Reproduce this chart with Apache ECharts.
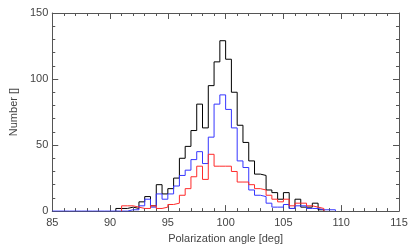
<!DOCTYPE html>
<html>
<head>
<meta charset="utf-8">
<script src="https://cdn.jsdelivr.net/npm/echarts@6/dist/echarts.min.js"></script>
<style>
html,body{margin:0;padding:0;background:#fff;}
#c{width:415px;height:249px;}
</style>
</head>
<body>
<div id="c"></div>
<script>
// Left edges of the 0.5-degree bins
const binStarts = [85,85.5,86,86.5,87,87.5,88,88.5,89,89.5,
  90,90.5,91,91.5,92,92.5,93,93.5,94,94.5,95,95.5,96,96.5,97,97.5,98,98.5,99,99.5,
  100,100.5,101,101.5,102,102.5,103,103.5,104,104.5,105,105.5,106,106.5,107,107.5,108,108.5,109,109.5];
const binWidth = 0.5;
const blackCounts = [null,null,null,null,null,null,null,null,null,null,
  null,2,2,3,2,7,11,4,20,13,17,25,40,49,61,81,63,95,113,129,
  115,90,65,52,38,28,27,16,14,9,14,2,9,3,3,6,1,null,null,null];
const blueCounts = [0,0,0,0,0,0,0,0,0,0,
  0,0,0,1,1,4,9,3,13,9,13,19,27,31,39,45,36,56,81,88,
  77,63,38,33,16,12,11,6,3,3,5,2,4,4,2,2,1,1,1,null];
const redCounts = [null,null,null,null,null,null,null,null,null,null,
  null,null,4,4,3,2,2,4,2,3,5,6,12,17,26,34,24,43,34,34,
  34,30,22,22,20,17,16,12,9,7,9,4,6,6,4,3,2,null,null,null];
const xTicks = [85,90,95,100,105,110,115];
const yTicks = [0,50,100,150];

function stepData(counts){
  const pts = [];
  let first = -1, last = -1;
  counts.forEach((v,i)=>{ if(v!==null){ if(first<0) first=i; last=i; } });
  pts.push([binStarts[first], 0]);
  for(let i=first;i<=last;i++) pts.push([binStarts[i], counts[i]]);
  pts.push([binStarts[last]+binWidth, 0]);
  return pts;
}

const axisColor = '#555';
const labelStyle = {color:'#444', fontFamily:'Liberation Sans', fontSize:11};
function xAx(pos, show){
  return {
    type:'value', position:pos, min:xTicks[0], max:xTicks[xTicks.length-1], interval:5,
    axisLine:{show:true, onZero:false, lineStyle:{color:axisColor, width:1}},
    axisTick:{show:true, inside:true, length:6, lineStyle:{color:axisColor}},
    minorTick:{show:true, splitNumber:5, length:3, lineStyle:{color:axisColor}},
    splitLine:{show:false},
    axisLabel:Object.assign({show:show, margin:6}, labelStyle),
    name: show ? 'Polarization angle [deg]' : '',
    nameLocation:'middle', nameGap:20,
    nameTextStyle:{color:'#444', fontFamily:'Liberation Sans', fontSize:11}
  };
}
function yAx(pos, show){
  return {
    type:'value', position:pos, min:yTicks[0], max:yTicks[yTicks.length-1], interval:50,
    axisLine:{show:true, onZero:false, lineStyle:{color:axisColor, width:1}},
    axisTick:{show:true, inside:true, length:6, lineStyle:{color:axisColor}},
    minorTick:{show:true, splitNumber:5, length:3, lineStyle:{color:axisColor}},
    splitLine:{show:false},
    axisLabel:Object.assign({show:show, margin:4}, labelStyle),
    name: show ? 'Number []' : '',
    nameLocation:'middle', nameGap:31,
    nameTextStyle:{color:'#444', fontFamily:'Liberation Sans', fontSize:11}
  };
}
function series(name, counts, color){
  return {
    name, type:'line', step:'end', data:stepData(counts), showSymbol:false, symbol:'none',
    xAxisIndex:0, yAxisIndex:0, animation:false,
    lineStyle:{color, width:1}, z:2
  };
}
const chart = echarts.init(document.getElementById('c'), null, {renderer:'canvas'});
chart.setOption({
  backgroundColor:'#fff',
  animation:false,
  grid:{left:52, right:16, top:13, bottom:33},
  xAxis:[xAx('bottom', true), xAx('top', false)],
  yAxis:[yAx('left', true), yAx('right', false)],
  series:[
    series('all', blackCounts, '#000000'),
    series('blue', blueCounts, '#3535ff'),
    series('red', redCounts, '#ff2a2a')
  ]
});
</script>
</body>
</html>
